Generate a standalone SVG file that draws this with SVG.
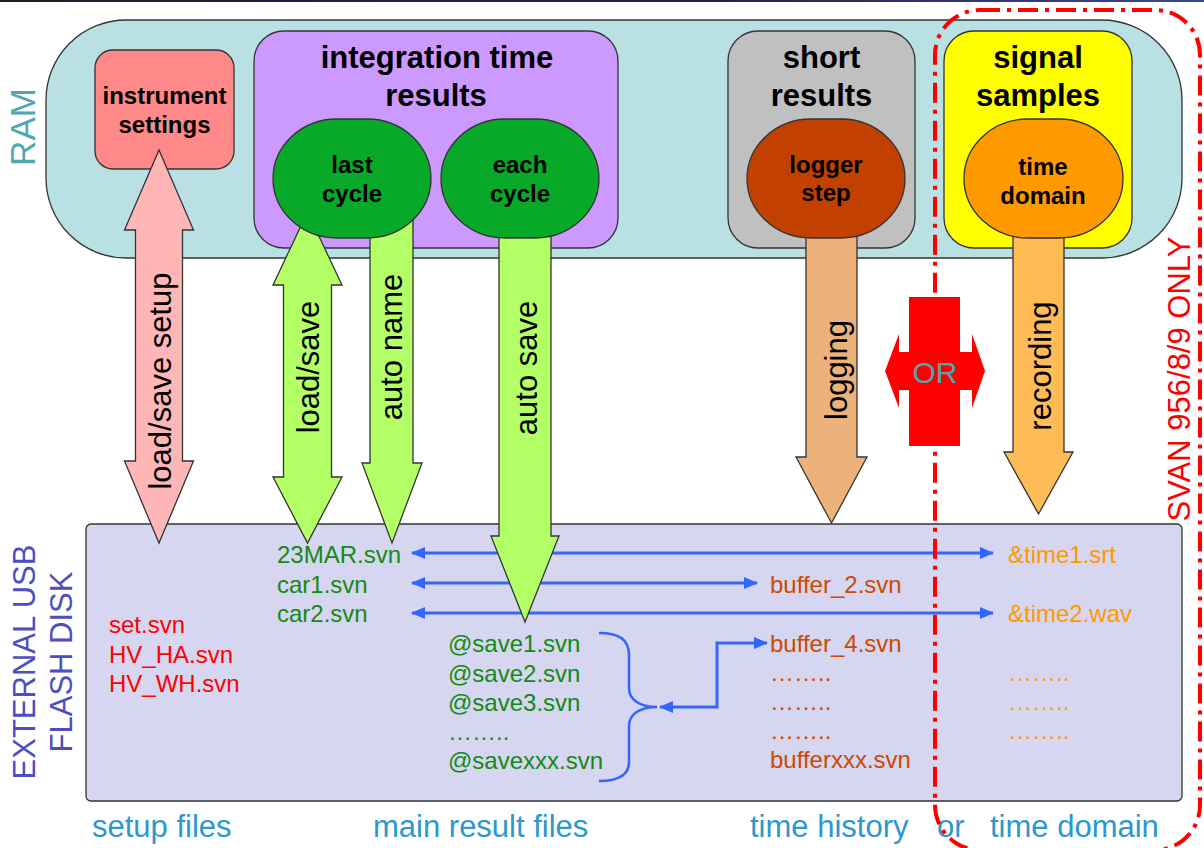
<svg xmlns="http://www.w3.org/2000/svg" width="1204" height="848" viewBox="0 0 1204 848">
<defs>
<linearGradient id="topbar" x1="0" y1="0" x2="1" y2="0">
<stop offset="0" stop-color="#1c1e2c"/>
<stop offset="0.6" stop-color="#23264a"/>
<stop offset="1" stop-color="#3a4890"/>
</linearGradient>
<marker id="ah" markerUnits="userSpaceOnUse" markerWidth="14" markerHeight="12" refX="13" refY="6" orient="auto-start-reverse">
<path d="M0,0 L14,6 L0,12 Z" fill="#3366ff"/>
</marker>
<style>
.box{stroke:#333;stroke-width:1.3}
.t{font-family:"Liberation Sans",Arial,sans-serif}
.b{font-weight:bold;fill:#000;text-anchor:middle}
.title{font-size:31px}
.inner{font-size:24px}
.lbl{font-size:31px;fill:#000;text-anchor:middle}
.file{font-size:24px}
.bot{font-size:31px;fill:#2e97cc}
.blue{fill:none;stroke:#3366ff;stroke-width:3}
.arrow{stroke:#333;stroke-width:1.3}
</style>
</defs>
<rect x="0" y="0" width="1204" height="2" fill="url(#topbar)"/>

<g id="ram">
<rect class="box" x="46" y="20" width="1136" height="238" rx="80" fill="#b9e0e3"/>
<text class="t" transform="translate(35,127) rotate(-90)" text-anchor="middle" font-size="35" fill="#52a7b4">RAM</text>
</g>

<g id="disk">
<rect class="box" x="86" y="524" width="1096" height="277" rx="5" fill="#d6d6f0"/>
<text class="t" transform="translate(35,662) rotate(-90)" text-anchor="middle" font-size="31" fill="#4d4dc4">EXTERNAL USB</text>
<text class="t" transform="translate(72,662) rotate(-90)" text-anchor="middle" font-size="31" fill="#4d4dc4">FLASH DISK</text>
</g>

<g id="instrument-settings">
<rect class="box" x="95" y="50" width="139" height="119" rx="18" fill="#ff8888"/>
<text class="t b inner" x="164.5" y="104">instrument</text>
<text class="t b inner" x="164.5" y="133">settings</text>
</g>

<g id="integration-time-results">
<rect class="box" x="254" y="31" width="364" height="217" rx="30" fill="#cc99ff"/>
<text class="t b title" x="437" y="68">integration time</text>
<text class="t b title" x="436" y="106">results</text>
</g>

<g id="short-results">
<rect class="box" x="728" y="31" width="187" height="217" rx="30" fill="#c0c0c0"/>
<text class="t b title" x="821.5" y="68">short</text>
<text class="t b title" x="821.5" y="106">results</text>
</g>

<g id="signal-samples">
<rect class="box" x="944" y="31" width="188" height="217" rx="30" fill="#ffff00"/>
<text class="t b title" x="1038" y="68">signal</text>
<text class="t b title" x="1038" y="106">samples</text>
</g>

<g id="connectors">
<g id="disk-links">
<path class="blue" d="M412,553 H993" marker-start="url(#ah)" marker-end="url(#ah)"/>
<path class="blue" d="M412,583 H757" marker-start="url(#ah)" marker-end="url(#ah)"/>
<path class="blue" d="M412,613 H993" marker-start="url(#ah)" marker-end="url(#ah)"/>
<path class="blue" d="M660,707 H717 V643 H767" marker-start="url(#ah)" marker-end="url(#ah)"/>
<path fill="none" stroke="#3366ff" stroke-width="2.5" d="M599,633 C620,633 629,640 629,655 V688 C629,700 640,707 657,707 C640,707 629,714 629,726 V762 C629,774 620,781 599,781"/>
</g>
<g id="arrow-load-save-setup">
<path class="arrow" fill="#ffb6b6" d="M159,150 L193.5,230 L182.5,230 L182.5,461 L193.5,461 L159,543 L124.5,461 L135.5,461 L135.5,230 L124.5,230 Z"/>
<text class="t lbl" transform="translate(171,381) rotate(-90)">load/save setup</text>
</g>
<g id="arrow-load-save">
<path class="arrow" fill="#b3ff66" d="M307.5,212 L342,285 L331.5,285 L331.5,477 L342,477 L307.5,543 L273,477 L283.5,477 L283.5,285 L273,285 Z"/>
<text class="t lbl" transform="translate(319,367) rotate(-90)">load/save</text>
</g>
<g id="arrow-auto-name">
<path class="arrow" fill="#b3ff66" d="M370,220 L413,220 L413,463 L422,463 L392,543 L362,463 L370,463 Z"/>
<text class="t lbl" transform="translate(402,347) rotate(-90)">auto name</text>
</g>
<g id="arrow-auto-save">
<path class="arrow" fill="#b3ff66" d="M499,225 L551,225 L551,536 L559,536 L525,622 L491,536 L499,536 Z"/>
<text class="t lbl" transform="translate(537,368) rotate(-90)">auto save</text>
</g>
<g id="arrow-logging">
<path class="arrow" fill="#edb27b" d="M806,225 L857,225 L857,457 L867,457 L831.5,523 L796,457 L806,457 Z"/>
<text class="t lbl" transform="translate(847,370) rotate(-90)">logging</text>
</g>
<g id="arrow-recording">
<path class="arrow" fill="#ffbb55" d="M1013,225 L1064,225 L1064,452 L1073,452 L1038.5,514 L1004,452 L1013,452 Z"/>
<text class="t lbl" transform="translate(1051,366) rotate(-90)">recording</text>
</g>
</g>

<g id="last-cycle">
<rect class="box" x="273" y="119" width="158" height="119" rx="64" ry="59.5" fill="#08a828"/>
<text class="t b inner" x="352" y="173">last</text>
<text class="t b inner" x="352" y="202">cycle</text>
</g>

<g id="each-cycle">
<rect class="box" x="441" y="119" width="158" height="119" rx="64" ry="59.5" fill="#08a828"/>
<text class="t b inner" x="520" y="173">each</text>
<text class="t b inner" x="520" y="202">cycle</text>
</g>

<g id="logger-step">
<rect class="box" x="747" y="119" width="158" height="119" rx="64" ry="59.5" fill="#c24000"/>
<text class="t b inner" x="826" y="173">logger</text>
<text class="t b inner" x="826" y="201">step</text>
</g>

<g id="time-domain">
<rect class="box" x="964" y="119" width="159" height="119" rx="64" ry="59.5" fill="#ff9900"/>
<text class="t b inner" x="1043" y="175">time</text>
<text class="t b inner" x="1043" y="204">domain</text>
</g>

<g id="or-switch">
<rect x="909" y="297" width="51" height="149" fill="#ff0000"/>
<path fill="#ff0000" d="M885,371 L899,334 L899,352 L972,352 L972,334 L985,371 L972,408 L972,390 L899,390 L899,408 Z"/>
<text class="t" x="935" y="383" text-anchor="middle" font-size="30" fill="#4fa8b0">OR</text>
</g>

<g id="setup-files">
<text class="t file" fill="#ff0000" x="109" y="633">set.svn</text>
<text class="t file" fill="#ff0000" x="109" y="663">HV_HA.svn</text>
<text class="t file" fill="#ff0000" x="109" y="692">HV_WH.svn</text>
</g>

<g id="main-files">
<text class="t file" fill="#138a13" x="277" y="563">23MAR.svn</text>
<text class="t file" fill="#138a13" x="277" y="593">car1.svn</text>
<text class="t file" fill="#138a13" x="277" y="622">car2.svn</text>
<text class="t file" fill="#138a13" x="448" y="652">@save1.svn</text>
<text class="t file" fill="#138a13" x="448" y="682">@save2.svn</text>
<text class="t file" fill="#138a13" x="448" y="711">@save3.svn</text>
<text class="t file" fill="#138a13" x="448" y="740">……..</text>
<text class="t file" fill="#138a13" x="448" y="769">@savexxx.svn</text>
</g>

<g id="history-files">
<text class="t file" fill="#cc4a00" x="770" y="593">buffer_2.svn</text>
<text class="t file" fill="#cc4a00" x="770" y="652">buffer_4.svn</text>
<text class="t file" fill="#cc4a00" x="770" y="681">……..</text>
<text class="t file" fill="#cc4a00" x="770" y="710">……..</text>
<text class="t file" fill="#cc4a00" x="770" y="739">……..</text>
<text class="t file" fill="#cc4a00" x="770" y="768">bufferxxx.svn</text>
</g>

<g id="domain-files">
<text class="t file" fill="#ff9900" x="1008" y="563">&amp;time1.srt</text>
<text class="t file" fill="#ff9900" x="1008" y="622">&amp;time2.wav</text>
<text class="t file" fill="#ff9900" x="1008" y="681">……..</text>
<text class="t file" fill="#ff9900" x="1008" y="710">……..</text>
<text class="t file" fill="#ff9900" x="1008" y="739">……..</text>
</g>

<g id="bottom-labels">
<text class="t bot" x="92" y="837">setup files</text>
<text class="t bot" x="373" y="837">main result files</text>
<text class="t bot" x="750" y="837">time history</text>
<text class="t bot" x="937" y="837">or</text>
<text class="t bot" x="990" y="837">time domain</text>
</g>

<g id="svan-only">
<rect x="935" y="10" width="265" height="840" rx="45" fill="none" stroke="#ff0000" stroke-width="4" stroke-dasharray="20 7 4 7"/>
<text class="t" transform="translate(1190,379) rotate(-90)" text-anchor="middle" font-size="31" fill="#ff0000">SVAN 956/8/9 ONLY</text>
</g>
</svg>
